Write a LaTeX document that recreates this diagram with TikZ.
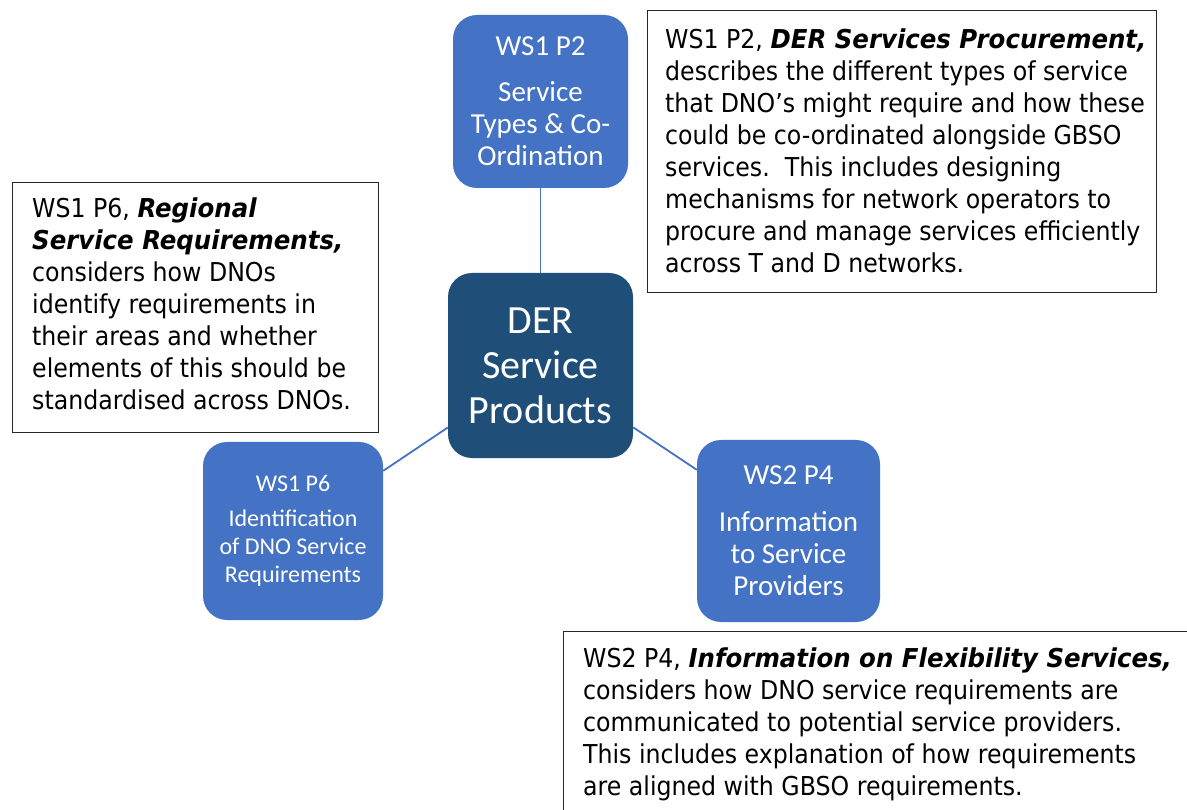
\documentclass[tikz,border=0pt]{standalone}
\usepackage{fontspec}
\setmainfont{DejaVu Sans}[FakeStretch=0.91]
\newfontfamily\bifont{DejaVu Sans}[FakeStretch=0.94]
\newfontfamily\calfont{Carlito}
\newcommand{\emtitle}[1]{{\bifont\bfseries\itshape #1}}
\definecolor{nodeblue}{HTML}{4472C4}
\definecolor{darkblue}{HTML}{1F4E79}
\begin{document}
\begin{tikzpicture}[x=1pt,y=-1pt,
  svc/.style={rounded corners=24pt, fill=nodeblue, text=white, align=center, inner sep=0pt,
    minimum width=175pt, minimum height=175pt, font=\calfont\fontsize{29}{32}\selectfont},
  hub/.style={svc, fill=darkblue, minimum width=185pt, minimum height=185pt,
    font=\calfont\fontsize{40}{45}\selectfont},
  desc/.style={draw=black!85, line width=1.2pt, fill=white, inner sep=0pt, anchor=north west},
  desctext/.style={anchor=north west, inner sep=0pt, align=left, font=\fontsize{26}{32}\selectfont},
  link/.style={draw=nodeblue, line width=1.8pt}]
\fill[white] (0,0) rectangle (1187,810);
\useasboundingbox (0,0) rectangle (1187,810);
\clip (0,0) rectangle (1187,810);

% service nodes
\node[svc, minimum width=175pt, minimum height=173pt] (p2) at (540.5,101.5)
  {WS1 P2\\[14pt]Service\\Types \& Co-\\Ordination};
\node[hub] (hub) at (540.5,365.5) {DER\\Service\\Products};
\node[svc, minimum width=180pt, minimum height=178pt, font=\calfont\fontsize{24}{28}\selectfont] (p6) at (293,531)
  {WS1 P6\\[7pt]Identification\\of DNO Service\\Requirements};
\node[svc, minimum width=183pt, minimum height=182pt] (p4) at (788.5,531)
  {WS2 P4\\[15pt]Information\\to Service\\Providers};

% connectors
\draw[link] (p2) -- (hub);
\draw[link] (hub) -- (p6);
\draw[link] (hub) -- (p4);

% description boxes
\node[desc, minimum width=509pt, minimum height=282pt] (d2) at (647,10) {};
\node[desctext] (t2) at (665,26) {\rule{0pt}{22pt}WS1 P2, \emtitle{DER Services Procurement,}\\
describes the different types of service\\
that DNO’s might require and how these\\
could be co-ordinated alongside GBSO\\
services.\ \ This includes designing\\
mechanisms for network operators to\\
procure and manage services efficiently\\
across T and D networks.};

\node[desc, minimum width=366pt, minimum height=250pt] (d6) at (12,182) {};
\node[desctext] (t6) at (32,195) {\rule{0pt}{22pt}WS1 P6, \emtitle{Regional}\\
\emtitle{Service Requirements,}\\
considers how DNOs\\
identify requirements in\\
their areas and whether\\
elements of this should be\\
standardised across DNOs.};

\node[desc, minimum width=640pt, minimum height=200pt] (d4) at (563,631) {};
\node[desctext] (t4) at (583,645) {\rule{0pt}{22pt}WS2 P4, \emtitle{Information on Flexibility Services,}\\
considers how DNO service requirements are\\
communicated to potential service providers.\\
This includes explanation of how requirements\\
are aligned with GBSO requirements.};
\end{tikzpicture}
\end{document}
